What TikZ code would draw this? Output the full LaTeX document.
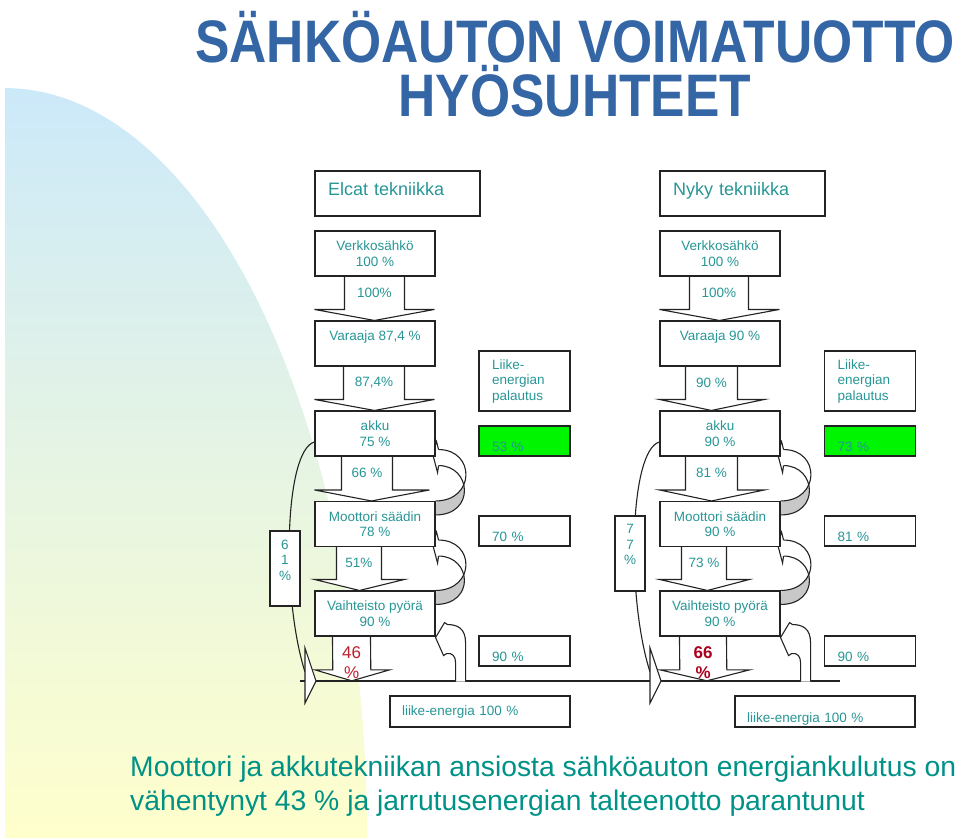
\documentclass[tikz,border=0pt]{standalone}
\usepackage{fontspec}
\setmainfont{Liberation Sans}
\newfontfamily\titlefont[FakeStretch=0.86]{Liberation Sans}
\usetikzlibrary{calc}
\pgfdeclarelayer{bg}
\pgfdeclarelayer{arrows}
\pgfsetlayers{bg,arrows,main}
\definecolor{titleblue}{RGB}{52,101,164}
\definecolor{tealtext}{RGB}{40,150,150}
\definecolor{noteteal}{RGB}{0,145,135}
\definecolor{lossred}{RGB}{190,30,45}
\definecolor{deepred}{RGB}{170,0,30}
\definecolor{skyblue}{RGB}{204,233,250}
\definecolor{paleyellow}{RGB}{255,255,204}
\definecolor{regengreen}{RGB}{0,245,0}
\definecolor{lineclr}{RGB}{35,35,35}
\definecolor{backface}{RGB}{200,200,200}
\newcommand{\boxfont}{\fontsize{13.5}{15.5}\selectfont}
% lohkonuoli laatikosta seuraavaan
\newcommand{\flowarrow}[9][]{%
  \draw[flow] ($(#3.south west)+(#5,0)$) -- ($(#4.north west)+(#5,-11)$) -- ($(#4.north west)+(0,-11)$)
    -- ($(#4.north west)+(#8,0)$) -- ($(#4.north west)+(#7,-11)$) -- ($(#4.north west)+(#6,-11)$)
    -- ($(#3.south west)+(#6,0)$);
  \node[flowlabel,#1] (#2) at ($(#3.south west)!0.5!(#4.north west)+({(#5+#6)/2},-5.5)$) {#9};}
% kaareva paluunuoli
\newcommand{\returnarrow}[2]{%
  \coordinate (ra) at ($(#1.south east)+(3,-7)$);
  \coordinate (rb) at ($(#2.north east)+(0,0)$);
  \coordinate (rc) at ($(#1.south east)+(3,9)$);
  \coordinate (rd) at ($(#2.north east)+(0,14)$);
  \fill[backface] (rc) .. controls +(33,0) and +(40,0) .. (rd) -- cycle;
  \fill[white] (ra) .. controls +(37,0) and +(40,0) .. (rb) -- cycle;
  \draw[flow] (ra) -- ($(#1.south east)+(1,-15)$) -- ($(#1.south east)+(-3,-3)$) -- ($(#1.south east)+(2,16)$) -- (rc);
  \draw[link] (ra) .. controls +(37,0) and +(40,0) .. (rb);
  \draw[link] (rc) .. controls +(33,0) and +(40,0) .. (rd);}
% nuoli tieltä ylös
\newcommand{\liftarrow}[1]{%
  \draw[flow] ($(#1.south east)+(30,45)$) -- ($(#1.south east)+(30,6)$) .. controls +(0,-14) and +(10,0) .. ($(#1.south east)+(12,-12)$)
    -- ($(#1.south east)+(9,-14)$) -- ($(#1.south east)+(0,1)$) -- ($(#1.south east)+(8,19)$) -- ($(#1.south east)+(11,17)$)
    .. controls +(6,-1) and +(0,-6) .. ($(#1.south east)+(20,26)$) -- ($(#1.south east)+(20,45)$);}
\begin{document}
\begin{tikzpicture}[x=1pt,y=-1pt,
  unit/.style={draw=lineclr, line width=1.1pt, fill=white, minimum width=120pt, minimum height=45pt, inner sep=0pt, align=center, text=tealtext, font=\boxfont},
  toptext/.style={text height=10pt, text depth=15.4pt},
  lowtext/.style={text height=21.6pt, text depth=0pt},
  techbox/.style={unit, minimum width=165pt, text width=139pt, align=left, font=\fontsize{18}{20}\selectfont, text height=13pt, text depth=9pt},
  sidebox/.style={unit, minimum width=91pt, minimum height=60pt, text width=65pt, align=left},
  valuebox/.style={sidebox, minimum height=30pt, lowtext},
  regenbox/.style={valuebox, fill=regengreen},
  kineticbox/.style={unit, minimum width=180pt, minimum height=31pt, text width=156pt, align=left},
  lossbox/.style={unit, minimum width=30pt, minimum height=75pt},
  roadhit/.style={inner sep=0pt, minimum size=0pt},
  flow/.style={draw=lineclr, line width=1.1pt, fill=white},
  link/.style={draw=lineclr, line width=1.1pt},
  flowlabel/.style={inner sep=0pt, align=center, text=tealtext, font=\boxfont},
  lossfont/.style={text=lossred, font=\fontsize{17}{20}\selectfont, yshift=-9pt},
  strongloss/.style={lossfont, text=deepred, font=\fontsize{17}{20}\selectfont\bfseries}]
\useasboundingbox (0,0) rectangle (960,839);
% tausta
\begin{pgfonlayer}{bg}
\shade[top color=skyblue, bottom color=paleyellow] (5,838) -- plot[domain=0:90, samples=60] ({5+362*sin(\x)},{838-750*cos(\x)}) -- cycle;
\end{pgfonlayer}
% otsikko
\node[anchor=base, inner sep=0pt, align=center, text=titleblue, font={\titlefont\bfseries\fontsize{60}{54}\selectfont}] (title) at (575,116) {SÄHKÖAUTON VOIMATUOTTO\\HYÖSUHTEET};
% Elcat
\node[techbox] (elcat) at (397.5,193.5) {Elcat tekniikka};
\node[unit] (grid1) at (375,253.5) {Verkkosähkö\\100 \%};
\node[unit, toptext] (store1) at (375,343.5) {Varaaja 87,4 \%};
\node[unit] (akku1) at (375,433.5) {akku\\75 \%};
\node[unit] (motor1) at (375,524) {Moottori säädin\\78 \%};
\node[unit] (gear1) at (375,613.5) {Vaihteisto pyörä\\90 \%};
\node[sidebox] (regenhead1) at (524.5,381) {Liike-\\energian\\palautus};
\node[regenbox] (regen1) at (524.5,441) {53 \%};
\node[valuebox] (motorloss1) at (524.5,531) {70 \%};
\node[valuebox] (gearloss1) at (524.5,651) {90 \%};
\node[kineticbox] (kinetic1) at (480,711.5) {liike-energia 100 \%};
\node[lossbox] (loss1) at (285,568.5) {};
\node[flowlabel, anchor=north] (losstxt1) at ($(loss1.north)+(0,9)$) {6\\1\\\%};
% nykytekniikka
\node[techbox] (nyky) at (742.5,193.5) {Nyky tekniikka};
\node[unit] (grid2) at (720,253.5) {Verkkosähkö\\100 \%};
\node[unit, toptext] (store2) at (720,343.5) {Varaaja 90 \%};
\node[unit] (akku2) at (720,433.5) {akku\\90 \%};
\node[unit] (motor2) at (720,524) {Moottori säädin\\90 \%};
\node[unit] (gear2) at (720,613.5) {Vaihteisto pyörä\\90 \%};
\node[sidebox] (regenhead2) at (870,381) {Liike-\\energian\\palautus};
\node[regenbox] (regen2) at (870,441) {73 \%};
\node[valuebox] (motorloss2) at (870,531) {81 \%};
\node[valuebox] (gearloss2) at (870,651) {90 \%};
\node[kineticbox, lowtext] (kinetic2) at (825,711.5) {liike-energia 100 \%};
\node[lossbox] (loss2) at (630,553.5) {};
\node[flowlabel, anchor=north] (losstxt2) at ($(loss2.north)+(0,9)$) {7\\7\\\%};
% tie ja osumat
\coordinate (roadW) at (300,681);
\coordinate (roadE) at (840,681);
\coordinate (tail1) at (305,672);
\coordinate (tail2) at (650,672);
\node[roadhit] (hit1) at (315,681) {};
\node[roadhit] (hit2) at (660,681) {};
\begin{pgfonlayer}{arrows}
\draw[link] (roadW) -- (roadE);
\returnarrow{akku1}{motor1}
\returnarrow{motor1}{gear1}
\returnarrow{akku2}{motor2}
\returnarrow{motor2}{gear2}
\liftarrow{gear1}
\liftarrow{gear2}
% lohkonuolet
\flowarrow{flowA1}{grid1}{store1}{30}{90}{120}{60}{100\%}
\flowarrow{flowA2}{store1}{akku1}{29}{90}{120}{60}{87,4\%}
\flowarrow{flowA3}{akku1}{motor1}{27}{78}{115}{57}{66 \%}
\flowarrow{flowA4}{motor1}{gear1}{22}{67}{90}{45}{51\%}
\flowarrow[lossfont]{flowA5}{gear1}{hit1}{18}{56}{75}{37}{46\\\%}
\flowarrow{flowB1}{grid2}{store2}{30}{89}{120}{60}{100\%}
\flowarrow{flowB2}{store2}{akku2}{26}{78}{105}{52}{90 \%}
\flowarrow{flowB3}{akku2}{motor2}{26}{78}{105}{52}{81 \%}
\flowarrow{flowB4}{motor2}{gear2}{22}{67}{90}{48}{73 \%}
\flowarrow[strongloss]{flowB5}{gear2}{hit2}{20}{67}{90}{47}{66\\\%}
% ohitus akusta tielle
\draw[link] ($(akku1.west)+(0,8.5)$) .. controls +(-30,8) and +(-24,-76) .. (tail1);
\draw[link] ($(akku2.west)+(0,8.5)$) .. controls +(-30,8) and +(-24,-76) .. (tail2);
\draw[flow] ($(hit1)+(-10,-33)$) -- ($(hit1)+(1,0)$) -- ($(hit1)+(-10,22)$) -- cycle;
\draw[flow] ($(hit2)+(-10,-33)$) -- ($(hit2)+(1,0)$) -- ($(hit2)+(-10,22)$) -- cycle;
\end{pgfonlayer}
% yhteenveto
\node[anchor=base west, inner sep=0pt, text=noteteal, font=\fontsize{28.3}{34}\selectfont] (note1) at (130,776) {Moottori ja akkutekniikan ansiosta sähköauton energiankulutus on};
\node[anchor=base west, inner sep=0pt, text=noteteal, font=\fontsize{28.3}{34}\selectfont] (note2) at (130,810) {vähentynyt 43 \% ja jarrutusenergian talteenotto parantunut};
\end{tikzpicture}
\end{document}
